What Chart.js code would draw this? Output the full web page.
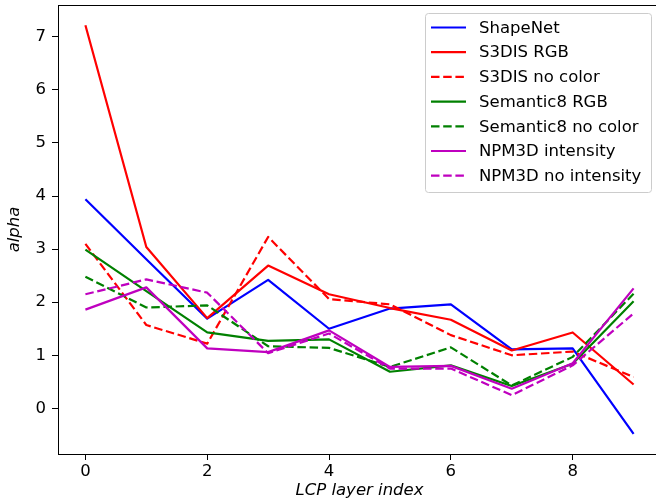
<!DOCTYPE html>
<html>
<head>
<meta charset="utf-8">
<script src="https://cdn.jsdelivr.net/npm/chart.js@4/dist/chart.umd.min.js"></script>
<style>
  html, body { margin: 0; padding: 0; background: #fff; overflow: hidden; }
  #wrap { width: 662px; height: 504px; position: relative; }
</style>
</head>
<body>
<div id="wrap"><canvas id="alphaChart"></canvas></div>
<script>
// values
const layerIndex = [0, 1, 2, 3, 4, 5, 6, 7, 8, 9];
const shapeNet = [3.94, 2.81, 1.69, 2.42, 1.50, 1.88, 1.96, 1.11, 1.13, -0.48];
const s3disRgb = [7.22, 3.04, 1.70, 2.69, 2.15, 1.89, 1.67, 1.09, 1.43, 0.45];
const s3disNoColor = [3.10, 1.57, 1.22, 3.23, 2.06, 1.96, 1.38, 1.00, 1.07, 0.59];
const sem8Rgb = [2.99, 2.21, 1.43, 1.27, 1.30, 0.69, 0.81, 0.42, 0.84, 2.02];
const sem8NoColor = [2.48, 1.90, 1.94, 1.17, 1.14, 0.78, 1.15, 0.43, 0.97, 2.16];
const npmIntensity = [1.86, 2.28, 1.13, 1.06, 1.47, 0.78, 0.80, 0.37, 0.85, 2.26];
const npmNoIntensity = [2.15, 2.43, 2.18, 1.04, 1.41, 0.75, 0.75, 0.25, 0.81, 1.79];
const xTicks = [0, 2, 4, 6, 8];
const yTicks = [0, 1, 2, 3, 4, 5, 6, 7];

const FONT = "'DejaVu Sans', sans-serif";
const DASH = [8.5, 3.7];
const LINE_W = 2.2;

const series = [
    { label: 'ShapeNet', values: shapeNet, color: '#0000ff', dash: [] },
    { label: 'S3DIS RGB', values: s3disRgb, color: '#ff0000', dash: [] },
    { label: 'S3DIS no color', values: s3disNoColor, color: '#ff0000', dash: DASH },
    { label: 'Semantic8 RGB', values: sem8Rgb, color: '#008000', dash: [] },
    { label: 'Semantic8 no color', values: sem8NoColor, color: '#008000', dash: DASH },
    { label: 'NPM3D intensity', values: npmIntensity, color: '#bf00bf', dash: [] },
    { label: 'NPM3D no intensity', values: npmNoIntensity, color: '#bf00bf', dash: DASH }
];

const datasets = series.map((s, i) => ({
    label: s.label,
    data: layerIndex.map((x, j) => ({ x: x, y: s.values[j] })),
    borderColor: s.color,
    borderDash: s.dash,
    borderWidth: LINE_W,
    borderJoinStyle: 'round',
    borderCapStyle: 'butt',
    pointRadius: 0,
    tension: 0,
    fill: false,
    order: series.length - i   // later series on top, like matplotlib
}));

// frame (top/right spines) and the boxed legend in the upper right
const frameAndLegend = {
    id: 'frameAndLegend',
    afterDatasetsDraw(chart) {
        const ctx = chart.ctx;
        const a = chart.chartArea;
        ctx.save();
        ctx.strokeStyle = '#000';
        ctx.lineWidth = 1;
        ctx.strokeRect(a.left + 0.5, a.top + 0.5, a.right - a.left - 1, a.bottom - a.top);

        const fontSize = 16.5;
        const rowH = 24.7;
        const boxX = 425, boxY = 13, boxW = 226, boxH = 179;
        ctx.fillStyle = 'rgba(255,255,255,0.8)';
        ctx.strokeStyle = '#cccccc';
        ctx.lineWidth = 1;
        ctx.beginPath();
        ctx.roundRect(boxX + 0.5, boxY + 0.5, boxW, boxH, 3);
        ctx.fill();
        ctx.stroke();

        ctx.font = fontSize + 'px ' + FONT;
        ctx.textBaseline = 'middle';
        ctx.textAlign = 'left';
        series.forEach((s, i) => {
            const y = boxY + 14.5 + i * rowH;
            ctx.strokeStyle = s.color;
            ctx.lineWidth = LINE_W;
            ctx.setLineDash(s.dash);
            ctx.lineCap = 'butt';
            ctx.beginPath();
            ctx.moveTo(431, y);
            ctx.lineTo(466, y);
            ctx.stroke();
            ctx.setLineDash([]);
            ctx.fillStyle = '#000';
            ctx.fillText(s.label, 479, y + 1);
        });
        ctx.restore();
    }
};

new Chart(document.getElementById('alphaChart'), {
    type: 'line',
    data: { datasets: datasets },
    options: {
        responsive: true,
        maintainAspectRatio: false,
        animation: false,
        layout: { padding: { top: 5, right: 1, left: 0, bottom: 0 } },
        plugins: {
            legend: { display: false },
            tooltip: { enabled: false }
        },
        scales: {
            x: {
                type: 'linear',
                min: -0.45,
                max: 9.45,
                afterBuildTicks: (scale) => { scale.ticks = xTicks.map(v => ({ value: v })); },
                afterFit: (scale) => {
                    scale.height = 50;
                    scale.paddingLeft = 0;
                    scale.paddingRight = 0;
                },
                grid: { drawOnChartArea: false, drawTicks: true, tickLength: 6, color: '#000' },
                border: { display: true, color: '#000', width: 1 },
                ticks: { color: '#000', padding: 2, font: { family: FONT, size: 16.5 } },
                title: {
                    display: true,
                    text: 'LCP layer index',
                    color: '#000',
                    padding: { top: 0, bottom: 3 },
                    font: { family: FONT, size: 16.5, style: 'italic' }
                }
            },
            y: {
                type: 'linear',
                min: -0.86,
                max: 7.6,
                afterBuildTicks: (scale) => { scale.ticks = yTicks.map(v => ({ value: v })); },
                afterFit: (scale) => {
                    scale.width = 58;
                    scale.paddingTop = 0;
                    scale.paddingBottom = 0;
                },
                grid: { drawOnChartArea: false, drawTicks: true, tickLength: 6, color: '#000' },
                border: { display: true, color: '#000', width: 1 },
                ticks: { color: '#000', padding: 6, font: { family: FONT, size: 16.5 } },
                title: {
                    display: true,
                    text: 'alpha',
                    color: '#000',
                    padding: { top: 5, bottom: 0 },
                    font: { family: FONT, size: 16.5, style: 'italic' }
                }
            }
        }
    },
    plugins: [frameAndLegend]
});
</script>
</body>
</html>
